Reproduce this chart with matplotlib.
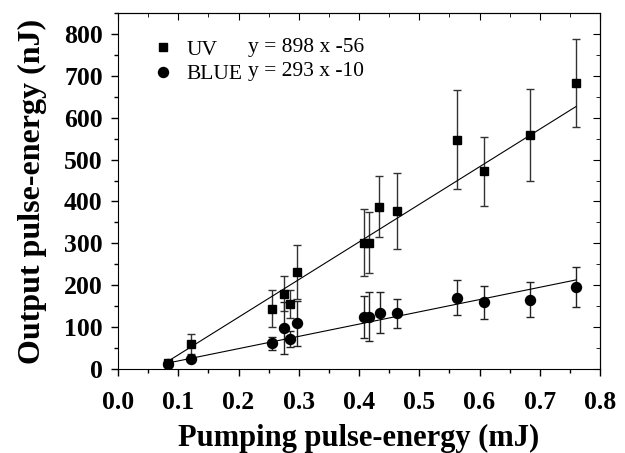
import matplotlib
matplotlib.use('Agg')
import matplotlib.pyplot as plt
from matplotlib.ticker import MultipleLocator
from matplotlib.lines import Line2D
import numpy as np

plt.rcParams['font.family'] = 'Liberation Serif'

# UV data (pump energy mJ, output nJ, error)
uv_x = [0.0835, 0.121, 0.256, 0.2755, 0.2855, 0.2977, 0.408, 0.417, 0.434, 0.4625, 0.562, 0.608, 0.684, 0.760]
uv_y = [15, 60, 144, 180, 155, 231, 302, 302, 388, 377, 547, 472, 558, 683]
uv_err = [5, 23, 44, 41, 33, 64, 80, 72, 74, 90, 118, 82, 110, 104]

# BLUE data
bl_x = [0.0835, 0.121, 0.256, 0.2755, 0.2855, 0.2977, 0.408, 0.417, 0.435, 0.4625, 0.562, 0.608, 0.684, 0.760]
bl_y = [12, 25, 61, 98, 71, 109, 125, 125, 134, 133, 170, 159, 165, 196]
bl_err = [3, 5, 16, 62, 19, 54, 50, 58, 49, 35, 42, 40, 42, 48]

# linear fits (slope, intercept)
uv_fit = (898, -56)
bl_fit = (293, -10)

fig = plt.figure(figsize=(6.25, 4.53), dpi=100)
ax = fig.add_axes([0.1888, 0.1854, 0.7712, 0.7859])

ax.errorbar(uv_x, uv_y, yerr=uv_err, fmt='s', color='black', ms=6.3, capsize=3,
            elinewidth=1, capthick=1, ecolor='#333333')
ax.errorbar(bl_x, bl_y, yerr=bl_err, fmt='o', color='black', ms=7.2, capsize=3,
            elinewidth=1, capthick=1, ecolor='#222222')

xf = np.array([min(uv_x), max(uv_x)])
ax.plot(xf, uv_fit[0]*xf + uv_fit[1], color='black', lw=0.8)
xf = np.array([min(bl_x), max(bl_x)])
ax.plot(xf, bl_fit[0]*xf + bl_fit[1], color='black', lw=0.8)

ax.set_xlim(0, 0.8)
ax.set_ylim(0, 850)
ax.xaxis.set_major_locator(MultipleLocator(0.1))
ax.xaxis.set_minor_locator(MultipleLocator(0.05))
ax.yaxis.set_major_locator(MultipleLocator(100))
ax.yaxis.set_minor_locator(MultipleLocator(50))
ax.xaxis.set_major_formatter(plt.FormatStrFormatter('%.1f'))

ax.tick_params(which='both', direction='out', top=False, right=False, width=1)
ax.tick_params(which='major', length=5, labelsize=18.5)
ax.tick_params(axis='y', which='major', pad=6)
ax.tick_params(axis='x', which='major', pad=11)
ax.tick_params(which='minor', length=3)
for lab in ax.get_xticklabels() + ax.get_yticklabels():
    lab.set_fontweight('bold')

# inward ticks on top/right
ax2 = ax.secondary_xaxis('top')
ax2.xaxis.set_major_locator(MultipleLocator(0.1))
ax2.xaxis.set_minor_locator(MultipleLocator(0.05))
ax2.tick_params(which='both', direction='in', labeltop=False)
ax2.tick_params(which='major', length=5)
ax2.tick_params(which='minor', length=3)
ax3 = ax.secondary_yaxis('right')
ax3.yaxis.set_major_locator(MultipleLocator(100))
ax3.yaxis.set_minor_locator(MultipleLocator(50))
ax3.tick_params(which='both', direction='in', labelright=False)
ax3.tick_params(which='major', length=5)
ax3.tick_params(which='minor', length=3)

ax.set_xlabel('Pumping pulse-energy (mJ)', fontsize=22, fontweight='bold', labelpad=7)
ax.set_ylabel('Output pulse-energy (nJ)', fontsize=23, fontweight='bold', labelpad=12)

handles = [Line2D([], [], ls='none', marker='s', color='black', ms=6.3),
           Line2D([], [], ls='none', marker='o', color='black', ms=7.2)]
ax.legend(handles, ['UV', 'BLUE'], loc='upper left', bbox_to_anchor=(0.07, 0.925),
          frameon=False, fontsize=15.5, handletextpad=0.6, labelspacing=0.2,
          borderpad=0, borderaxespad=0, handlelength=1.0)
ax.text(0.27, 0.902, 'y = %d x -%d' % (uv_fit[0], -uv_fit[1]), transform=ax.transAxes,
        fontsize=15.5, va='center')
ax.text(0.27, 0.837, 'y = %d x -%d' % (bl_fit[0], -bl_fit[1]), transform=ax.transAxes,
        fontsize=15.5, va='center')

fig.savefig('out.png', dpi=100)
